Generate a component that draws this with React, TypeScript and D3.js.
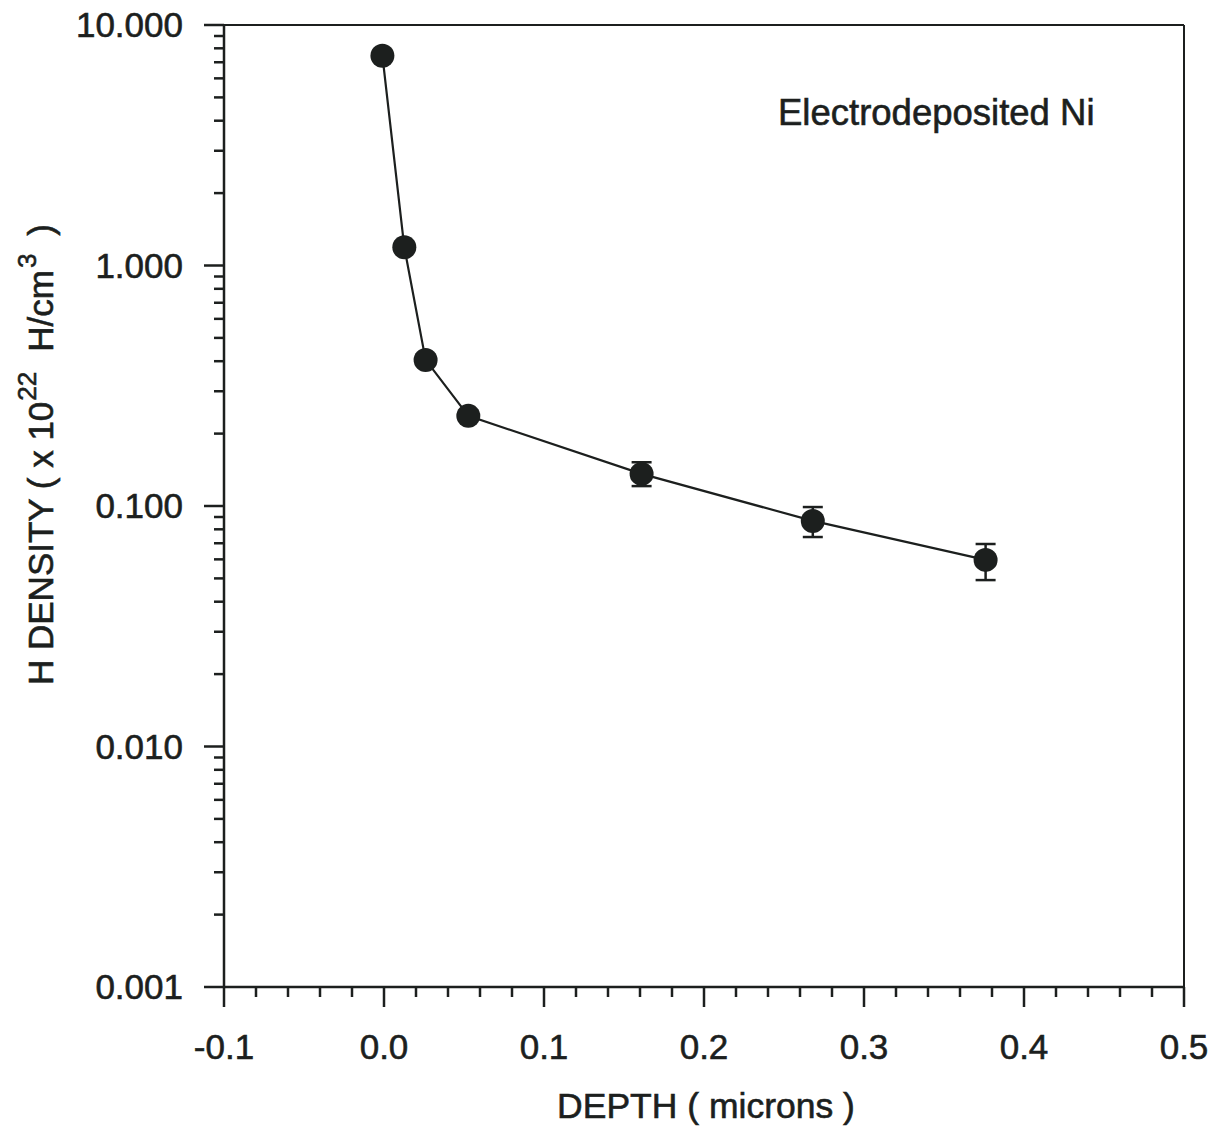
import React from 'react';
import * as d3 from 'd3';

// depth (microns) and H density (x 10^22 H/cm^3)
const depth = [-0.001, 0.0127, 0.026, 0.0527, 0.161, 0.268, 0.376];
const density = [7.45, 1.19, 0.405, 0.237, 0.136, 0.0867, 0.0597];
const errLow = [null, null, null, null, 0.121, 0.0743, 0.0492];
const errHigh = [null, null, null, null, 0.152, 0.099, 0.0695];

const xTicks = [-0.1, 0.0, 0.1, 0.2, 0.3, 0.4, 0.5];
const xTickLabels = ['-0.1', '0.0', '0.1', '0.2', '0.3', '0.4', '0.5'];
const yTicks = [0.001, 0.01, 0.1, 1, 10];
const yTickLabels = ['0.001', '0.010', '0.100', '1.000', '10.000'];

const FONT = '"Liberation Sans", Arial, Helvetica, sans-serif';
const INK = '#1c1f1e';

export default function App() {
  const left = 224, right = 1184, top = 25, bottom = 987;

  const x = d3.scaleLinear().domain([-0.1, 0.5]).range([left, right]);
  const y = d3.scaleLog().domain([0.001, 10]).range([bottom, top]);

  const xMinor = d3.range(-0.1, 0.5001, 0.02).filter(v => !xTicks.some(t => Math.abs(t - v) < 1e-6));
  const yMinor = y.ticks().filter(v => !yTicks.some(t => Math.abs(Math.log10(t) - Math.log10(v)) < 1e-6));

  const pts = depth.map((d, i) => ({ x: d, y: density[i], lo: errLow[i], hi: errHigh[i] }));
  const line = d3.line<any>().x(d => x(d.x)).y(d => y(d.y));

  // slight stroke so text looks as heavy as the scanned original
  const txt = { fill: INK, stroke: INK, strokeWidth: 0.6 };

  return (
    <svg width={1219} height={1136} style={{ position: 'absolute', left: 0, top: 0, background: '#fff' }}
      fontFamily={FONT}>
      <rect x={0} y={0} width={1219} height={1136} fill="#fff" />

      {/* frame */}
      <line x1={left} x2={right} y1={top} y2={top} stroke={INK} strokeWidth={2} />
      <line x1={right} x2={right} y1={top} y2={bottom} stroke={INK} strokeWidth={2} />
      <line x1={left} x2={left} y1={top - 1} y2={bottom + 1} stroke={INK} strokeWidth={2.5} />
      <line x1={left - 1} x2={right + 1} y1={bottom} y2={bottom} stroke={INK} strokeWidth={2.5} />

      {/* x ticks */}
      {xTicks.map((t, i) => (
        <g key={'xt' + i}>
          <line x1={x(t)} x2={x(t)} y1={bottom} y2={bottom + 20} stroke={INK} strokeWidth={2.5} />
          <text x={x(t)} y={1059} textAnchor="middle" fontSize={35} {...txt}>{xTickLabels[i]}</text>
        </g>
      ))}
      {xMinor.map((t, i) => (
        <line key={'xm' + i} x1={x(t)} x2={x(t)} y1={bottom} y2={bottom + 10} stroke={INK} strokeWidth={2.5} />
      ))}

      {/* y ticks */}
      {yTicks.map((t, i) => (
        <g key={'yt' + i}>
          <line x1={left} x2={left - 20} y1={y(t)} y2={y(t)} stroke={INK} strokeWidth={2.5} />
          <text x={183} y={y(t) + 12} textAnchor="end" fontSize={35} {...txt}>{yTickLabels[i]}</text>
        </g>
      ))}
      {yMinor.map((t, i) => (
        <line key={'ym' + i} x1={left} x2={left - 10} y1={y(t)} y2={y(t)} stroke={INK} strokeWidth={2.5} />
      ))}

      {/* data line */}
      <path d={line(pts) || ''} fill="none" stroke={INK} strokeWidth={2.2} />

      {/* error bars */}
      {pts.filter(p => p.lo != null).map((p, i) => (
        <g key={'eb' + i} stroke={INK} strokeWidth={2.5}>
          <line x1={x(p.x)} x2={x(p.x)} y1={y(p.lo)} y2={y(p.hi)} />
          <line x1={x(p.x) - 10} x2={x(p.x) + 10} y1={y(p.lo)} y2={y(p.lo)} />
          <line x1={x(p.x) - 10} x2={x(p.x) + 10} y1={y(p.hi)} y2={y(p.hi)} />
        </g>
      ))}

      {/* markers */}
      {pts.map((p, i) => (
        <circle key={'pt' + i} cx={x(p.x)} cy={y(p.y)} r={12} fill={INK} />
      ))}

      {/* annotation */}
      <text x={778} y={125} fontSize={36.5} {...txt}>Electrodeposited Ni</text>

      {/* axis titles */}
      <text x={(557 + 855) / 2} y={1118} textAnchor="middle" fontSize={35.5} {...txt}>DEPTH ( microns )</text>
      <text transform="translate(53,685) rotate(-90)" fontSize={35} {...txt}>
        H DENSITY ( x 10
        <tspan fontSize={26} dy={-17} dx={1}>22</tspan>
        <tspan dy={17} dx={20}>H/cm</tspan>
        <tspan fontSize={26} dy={-17} dx={2}>3</tspan>
        <tspan dy={17} dx={18}>)</tspan>
      </text>
    </svg>
  );
}
